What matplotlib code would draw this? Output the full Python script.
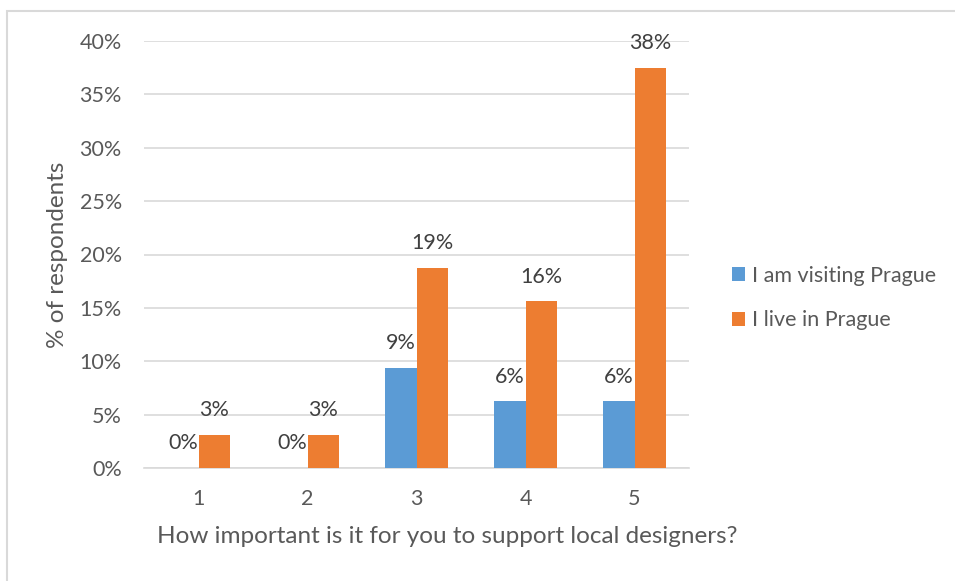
import matplotlib
matplotlib.use("Agg")
import matplotlib.pyplot as plt
import numpy as np
from matplotlib.patches import Rectangle

categories = ["1", "2", "3", "4", "5"]
visiting = [0.0, 0.0, 9.375, 6.25, 6.25]
living = [3.125, 3.125, 18.75, 15.625, 37.5]
series_names = ["I am visiting Prague", "I live in Prague"]
colors = ["#5b9bd5", "#ed7d31"]
text_col = "#595959"

plt.rcParams["font.family"] = ["Lato", "DejaVu Sans"]

W, H = 955, 581
fig = plt.figure(figsize=(W / 100, H / 100), dpi=100)
ax = fig.add_axes([144 / W, 1 - 468 / H, (689 - 144) / W, (468 - 41) / H])

x = np.arange(len(categories))
bw = 0.285
b1 = ax.bar(x - bw / 2, visiting, bw, color=colors[0], label=series_names[0], zorder=3)
b2 = ax.bar(x + bw / 2, living, bw, color=colors[1], label=series_names[1], zorder=3)

for bars, vals in [(b1, visiting), (b2, living)]:
    for b, v in zip(bars, vals):
        ax.annotate(f"{v:.0f}%", (b.get_x() + b.get_width() / 2, v),
                    xytext=(0, 10.5), textcoords="offset points",
                    ha="center", va="bottom", fontsize=15.5, color="#404040")

ax.set_xlim(-0.5, 4.5)
ax.set_ylim(0, 40)
ax.set_yticks(range(0, 41, 5))
ax.set_yticklabels([f"{t}%" for t in range(0, 41, 5)])
ax.set_xticks(x)
ax.set_xticklabels(categories)
ax.grid(axis="y", color="#d9d9d9", linewidth=1.2, zorder=0)
for s in ["top", "right", "left"]:
    ax.spines[s].set_visible(False)
ax.spines["bottom"].set_color("#d9d9d9")
ax.spines["bottom"].set_linewidth(1.2)
ax.tick_params(length=0, labelsize=15.5, colors=text_col)
ax.tick_params(axis="y", pad=16)
ax.tick_params(axis="x", pad=15)

ax.set_xlabel("How important is it for you to support local designers?",
              fontsize=17.5, color=text_col, labelpad=13)
ax.xaxis.set_label_coords((447 - 144) / 545, -0.135)
ax.set_ylabel("% of respondents", fontsize=17.5, color=text_col, labelpad=8)

leg = fig.legend(handles=[b1, b2], loc="center left",
                 bbox_to_anchor=(713 / W, 1 - 298 / H), frameon=False,
                 fontsize=15.5, handlelength=0.6, handleheight=0.6,
                 handletextpad=0.3, labelspacing=1.15, labelcolor=text_col)

fig.patches.append(Rectangle((7 / W, -0.1), 1.1, 1 - 11 / H + 0.1,
                             transform=fig.transFigure, fill=False,
                             edgecolor="#d9d9d9", linewidth=1.5))

fig.savefig("out.png", dpi=100)
